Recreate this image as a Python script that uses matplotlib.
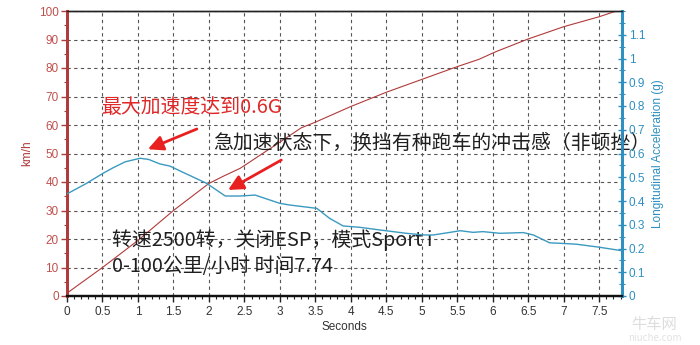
import matplotlib
matplotlib.use("Agg")
import matplotlib.pyplot as plt
from matplotlib.ticker import MultipleLocator, FixedLocator

plt.rcParams['font.family'] = ['Noto Sans CJK SC', 'DejaVu Sans']

# speed (km/h) vs time (s)
speed_t = [0, 0.5, 1.0, 1.5, 2.0, 2.2, 2.44, 3.0, 3.3, 3.5, 4.0, 4.5, 5.0, 5.5, 5.8, 6.05, 6.5, 7.0, 7.5, 7.74]
speed_v = [1, 10, 19.5, 30, 39.5, 42, 44.8, 54, 59, 61, 66.5, 71.5, 76, 80.5, 83, 85.8, 90.2, 94.5, 98, 100]

# longitudinal acceleration (g) vs time (s)
acc_t = [0, 0.25, 0.51, 0.65, 0.82, 1.03, 1.15, 1.31, 1.45, 1.64, 1.97, 2.23, 2.44, 2.65, 3.0, 3.14, 3.52,
         3.7, 3.89, 4.13, 4.41, 4.78, 5.02, 5.16, 5.4, 5.54, 5.72, 5.86, 6.1, 6.43, 6.57, 6.8, 6.94, 7.18, 7.51, 7.81]
acc_g = [0.43, 0.47, 0.517, 0.54, 0.565, 0.58, 0.575, 0.556, 0.547, 0.52, 0.474, 0.421, 0.421, 0.425, 0.39, 0.383, 0.369,
         0.327, 0.295, 0.289, 0.278, 0.264, 0.257, 0.257, 0.268, 0.275, 0.268, 0.271, 0.264, 0.267, 0.257, 0.224, 0.222, 0.218, 0.205, 0.191]

x_ticks = [0, 0.5, 1, 1.5, 2, 2.5, 3, 3.5, 4, 4.5, 5, 5.5, 6, 6.5, 7, 7.5]
y_ticks = [0, 10, 20, 30, 40, 50, 60, 70, 80, 90, 100]
g_ticks = [0, 0.1, 0.2, 0.3, 0.4, 0.5, 0.6, 0.7, 0.8, 0.9, 1, 1.1]

red_dark = '#b03a3a'
red_tick = '#c0504d'
blue = '#2e8fc0'
blue_line = '#3a9ac0'

fig = plt.figure(figsize=(7, 3.45), dpi=100)
ax = fig.add_axes([67/700, 49/345, 555/700, 285/345])
ax2 = ax.twinx()

ax.plot(speed_t, speed_v, color=red_dark, lw=0.8, zorder=3)
ax2.plot(acc_t, acc_g, color=blue_line, lw=1.0, zorder=3)

ax.set_xlim(0, 7.82)
ax.set_ylim(0, 100)
ax2.set_ylim(0, 1.2)

ax.set_xticks(x_ticks)
ax.set_xticklabels([('%g' % v) for v in x_ticks])
ax.set_yticks(y_ticks)
ax2.yaxis.set_major_locator(FixedLocator(g_ticks))
ax2.set_yticklabels([('%g' % v) for v in g_ticks])
ax.xaxis.set_minor_locator(MultipleLocator(0.1))
ax.yaxis.set_minor_locator(MultipleLocator(5))
ax2.yaxis.set_minor_locator(MultipleLocator(0.05))

ax.grid(True, which='major', color='#555555', ls=(0, (3, 3)), lw=0.8)
ax.set_axisbelow(True)

tick_font = dict(family=['Liberation Sans', 'DejaVu Sans'], size=8.5)
for lab in ax.get_xticklabels():
    lab.set_fontproperties(tick_font); lab.set_color('#333333')
for lab in ax.get_yticklabels():
    lab.set_fontproperties(tick_font); lab.set_color(red_tick)
for lab in ax2.get_yticklabels():
    lab.set_fontproperties(tick_font); lab.set_color(blue)

ax.tick_params(axis='x', which='major', direction='out', length=4, width=1, color='#222222', pad=3)
ax.tick_params(axis='x', which='minor', direction='out', length=2, width=0.8, color='#222222')
ax.tick_params(axis='y', which='major', direction='out', length=4, width=1, color=red_dark, pad=2)
ax.tick_params(axis='y', which='minor', direction='out', length=2, width=0.8, color=red_dark)
ax2.tick_params(axis='y', which='major', direction='inout', length=6, width=1, color=blue, pad=2)
ax2.tick_params(axis='y', which='minor', direction='inout', length=4, width=0.8, color=blue)

for a in (ax, ax2):
    a.spines['left'].set_color(red_dark)
    a.spines['left'].set_linewidth(2)
    a.spines['right'].set_color(blue)
    a.spines['right'].set_linewidth(2)
    a.spines['bottom'].set_color('#111111')
    a.spines['bottom'].set_linewidth(1.6)
    a.spines['top'].set_color('#222222')
    a.spines['top'].set_linewidth(1.0)

ax.set_xlabel('Seconds', fontsize=8.5, family=['Liberation Sans', 'DejaVu Sans'], color='#333333', labelpad=2)
ax.set_ylabel('km/h', fontsize=8.5, family=['Liberation Sans', 'DejaVu Sans'], color=red_dark, labelpad=4)
ax2.set_ylabel('Longitudinal Acceleration (g)', fontsize=8.5, family=['Liberation Sans', 'DejaVu Sans'],
               color=blue, labelpad=5)

# annotations (in data coordinates of the speed axis)
fs = 14.3
ax.text(0.48, 66.3, '最大加速度达到0.6G', color='#e02828', fontsize=fs, va='center', ha='left', zorder=5)
ax.text(2.06, 53.5, '急加速状态下，换挡有种跑车的冲击感（非顿挫）', color='#1f1f1f', fontsize=fs,
        va='center', ha='left', zorder=5)
ax.text(0.63, 19.5, '转速2500转，关闭ESP，模式Sport i', color='#1f1f1f', fontsize=fs, va='center', ha='left', zorder=5)
ax.text(0.63, 10.5, '0-100公里/小时 时间7.74', color='#1f1f1f', fontsize=fs, va='center', ha='left', zorder=5)

arrow_kw = dict(arrowstyle='-|>,head_length=0.9,head_width=0.45', color='#e82020', lw=2.0, shrinkA=0, shrinkB=0)
ax.annotate('', xy=(1.14, 51.5), xytext=(1.83, 58.6), arrowprops=arrow_kw, zorder=6)
ax.annotate('', xy=(2.27, 37.2), xytext=(3.02, 47.7), arrowprops=arrow_kw, zorder=6)

# watermark
fig.text(0.935, 0.06, '牛车网', color='#dddddd', fontsize=11, ha='center', va='center')
fig.text(0.935, 0.02, 'niuche.com', color='#e2e2e2', fontsize=7, ha='center', va='center')

fig.savefig('out.png', dpi=100, facecolor='white')
